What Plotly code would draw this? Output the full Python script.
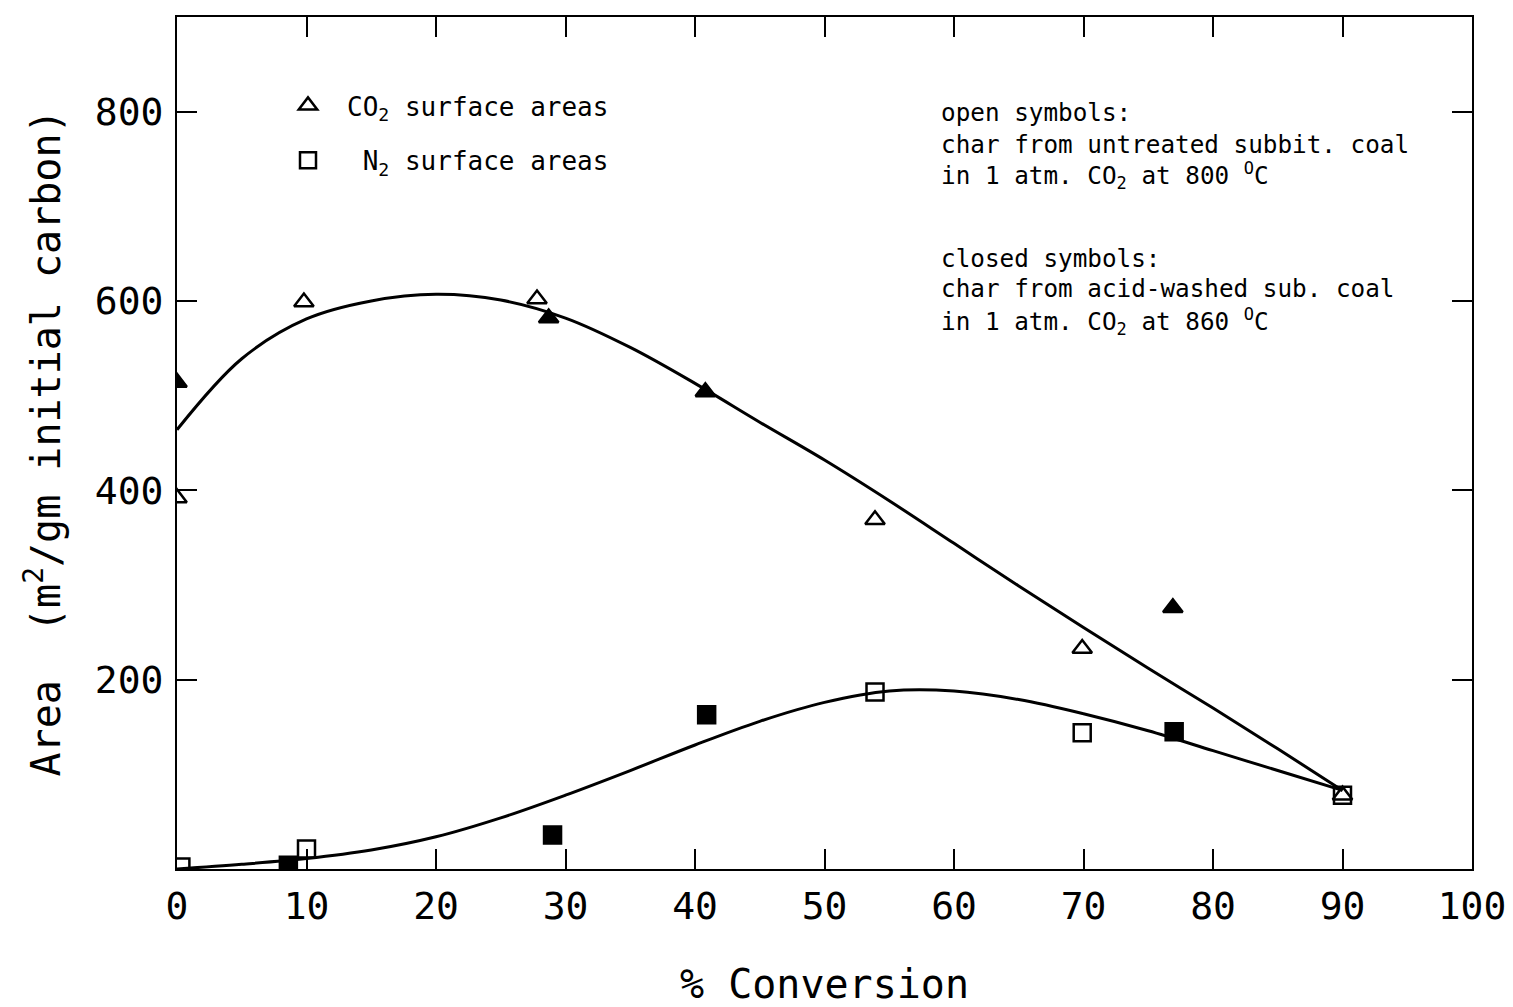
import plotly.graph_objects as go

# Measured points: CO2 and N2 surface areas vs. % conversion
co2_open_x = [0, 9.8, 27.8, 53.9, 69.9, 90]
co2_open_y = [392, 599, 602, 369, 233, 78]
co2_closed_x = [0, 28.7, 40.8, 76.9]
co2_closed_y = [514, 582, 504, 276]

n2_open_x = [0.3, 10, 53.9, 69.9, 90]
n2_open_y = [2, 21, 187, 144, 78]
n2_closed_x = [8.6, 29, 40.9, 77]
n2_closed_y = [4, 36, 163, 145]

# Hand-drawn trend curves through the data
co2_fit_x = [0, 5, 10, 15, 20, 25, 30, 35, 40, 45, 50, 55, 60, 65, 70, 75, 80, 85, 90]
co2_fit_y = [464, 539, 581, 600, 607, 601, 582, 551, 513, 472, 432, 389, 344, 299, 255, 212, 170, 127, 83]
n2_fit_x = [0, 5, 10, 15, 20, 25, 30, 35, 40, 45, 50, 55, 60, 65, 70, 75, 80, 85, 90]
n2_fit_y = [0, 5, 11, 20, 34, 54, 78, 104, 131, 156, 176, 188, 188, 179, 164, 146, 125, 104, 83]

x_ticks = [0, 10, 20, 30, 40, 50, 60, 70, 80, 90, 100]
y_ticks = [200, 400, 600, 800]

FONT = "DejaVu Sans Mono"
INK = "black"

fig = go.Figure()

# trend curves
for fx, fy in [(co2_fit_x, co2_fit_y), (n2_fit_x, n2_fit_y)]:
    fig.add_trace(go.Scatter(x=fx, y=fy, mode="lines", showlegend=False,
                             line=dict(color=INK, width=3, shape="spline", smoothing=1.0),
                             hoverinfo="skip"))

# data markers
marker_sets = [
    (co2_open_x, co2_open_y, "triangle-up-open"),
    (co2_closed_x, co2_closed_y, "triangle-up"),
    (n2_open_x, n2_open_y, "square-open"),
    (n2_closed_x, n2_closed_y, "square"),
]
for mx, my, sym in marker_sets:
    fig.add_trace(go.Scatter(x=mx, y=my, mode="markers", showlegend=False,
                             marker=dict(symbol=sym, size=17, color=INK,
                                         line=dict(color=INK, width=2.5))))

# legend keys (open symbols)
fig.add_trace(go.Scatter(x=[None], y=[None], mode="markers",
                         name="CO<sub>2</sub> surface areas", legendgroup="a",
                         marker=dict(symbol="triangle-up-open", size=17, color=INK,
                                     line=dict(color=INK, width=2.5))))
fig.add_trace(go.Scatter(x=[None], y=[None], mode="markers",
                         name="\u00a0N<sub>2</sub> surface areas", legendgroup="b",
                         marker=dict(symbol="square-open", size=17, color=INK,
                                     line=dict(color=INK, width=2.5))))

axis_common = dict(
    showgrid=False, zeroline=False, showline=True, linecolor=INK, linewidth=2,
    mirror="ticks", ticks="inside", ticklen=20, tickwidth=2, tickcolor=INK,
    tickfont=dict(family=FONT, size=38, color=INK), automargin=False,
)

fig.update_xaxes(range=[0, 100], tickvals=x_ticks, ticktext=[str(v) for v in x_ticks],
                 ticklabelstandoff=2,
                 title=dict(text="% Conversion", font=dict(family=FONT, size=40, color=INK),
                            standoff=46),
                 **axis_common)
fig.update_yaxes(range=[0, 900], tickvals=y_ticks, ticktext=[str(v) for v in y_ticks],
                 ticklabelstandoff=4,
                 title=dict(text="Area  (m<sup>2</sup>/gm initial carbon)",
                            font=dict(family=FONT, size=40, color=INK), standoff=22),
                 **axis_common)

# explanatory notes (paper coordinates: plot spans y=17..869 px, x=177..1472 px)
def py(ypx):
    return (869 - ypx) / 852

def px(xpx):
    return (xpx - 177) / 1295

notes = [
    (113, "open symbols:"),
    (144, "char from untreated subbit. coal"),
    (176, "in 1 atm. CO<sub>2</sub> at 800 <sup>O</sup>C"),
    (258, "closed symbols:"),
    (289, "char from acid-washed sub. coal"),
    (321, "in 1 atm. CO<sub>2</sub> at 860 <sup>O</sup>C"),
]
for ypx, txt in notes:
    fig.add_annotation(x=px(939), y=py(ypx), xref="paper", yref="paper",
                       xanchor="left", yanchor="middle", showarrow=False, text=txt,
                       font=dict(family=FONT, size=24.3, color=INK))

fig.update_layout(
    width=1513, height=1007,
    margin=dict(l=177, r=41, t=17, b=138),
    paper_bgcolor="white", plot_bgcolor="white",
    font=dict(family=FONT, color=INK),
    legend=dict(x=px(269), y=py(82), xanchor="left", yanchor="top",
                bgcolor="rgba(0,0,0,0)", font=dict(family=FONT, size=26, color=INK),
                traceorder="grouped", tracegroupgap=18, itemwidth=68),
)

fig.write_html("out.html")
